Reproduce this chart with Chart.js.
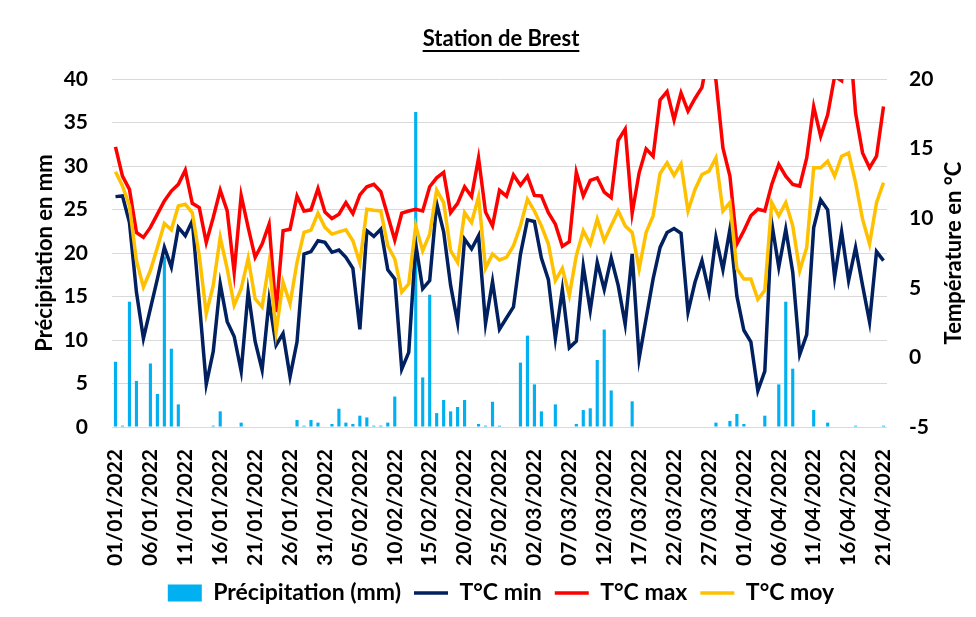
<!DOCTYPE html>
<html lang="fr">
<head>
<meta charset="UTF-8">
<title>Station de Brest</title>
<script src="https://cdn.jsdelivr.net/npm/chart.js@4.4.1/dist/chart.umd.min.js"></script>
<style>
  html, body { margin: 0; padding: 0; background: #fff; }
  #wrap { width: 976px; height: 617px; }
</style>
</head>
<body>
<div id="wrap"><canvas id="chart" width="976" height="617"></canvas></div>
<script>
// jours du 01/01/2022 au 21/04/2022
const monthLengths = [31, 28, 31, 21];
const dates = [];
monthLengths.forEach((n, m) => {
  for (let d = 1; d <= n; d++) {
    dates.push(String(d).padStart(2, '0') + '/' + String(m + 1).padStart(2, '0') + '/2022');
  }
});

const precipitation = [
  7.5, 0.15, 14.4, 5.3, 0, 7.3, 3.8, 19.6, 9.0, 2.6,
  0, 0, 0, 0, 0.15, 1.8, 0, 0, 0.5, 0,
  0, 0, 0, 0, 0, 0, 0.8, 0.15, 0.8, 0.5,
  0, 0.35, 2.1, 0.5, 0.35, 1.3, 1.1, 0.15, 0.15, 0.5,
  3.5, 0, 0, 36.2, 5.7, 15.2, 1.6, 3.1, 1.8, 2.3,
  3.1, 0, 0.35, 0.15, 2.9, 0.15, 0, 0, 7.4, 10.5,
  4.9, 1.8, 0, 2.6, 0, 0, 0.35, 1.95, 2.15, 7.7,
  11.2, 4.2, 0, 0, 2.95, 0, 0, 0, 0, 0,
  0, 0, 0, 0, 0, 0, 0.5, 0, 0.7, 1.5,
  0.35, 0, 0, 1.3, 0, 4.9, 14.4, 6.7, 0, 0,
  1.95, 0, 0.5, 0, 0, 0, 0.15, 0, 0, 0,
  0.15
];

const tMin = [
  11.55, 11.6, 9.69, 4.69, 1.36, 3.5, 5.64, 7.9, 6.48, 9.34,
  8.74, 9.81, 4.0, -1.93, 0.43, 5.29, 2.57, 1.5, -1.0, 4.71,
  1.14, -0.9, 4.1, 0.88, 1.71, -1.38, 1.12, 7.43, 7.6, 8.38,
  8.26, 7.55, 7.71, 7.19, 6.4, 2.02, 9.1, 8.69, 9.21, 6.29,
  5.64, -0.84, 0.36, 8.14, 4.93, 5.52, 11.07, 9.02, 5.17, 2.5,
  8.5, 7.79, 8.74, 2.43, 5.45, 2.02, 2.83, 3.62, 7.4, 9.88,
  9.76, 7.14, 5.59, 1.36, 4.88, 0.69, 1.17, 6.55, 3.38, 6.83,
  4.88, 7.14, 5.17, 2.38, 7.43, -0.07, 2.79, 5.64, 7.9, 8.98,
  9.26, 8.92, 3.26, 5.4, 6.95, 4.69, 8.62, 6.31, 9.21, 4.4,
  1.95, 1.12, -2.4, -0.98, 9.64, 6.48, 9.21, 6.12, 0.21, 1.64,
  9.33, 11.31, 10.6, 5.76, 9.02, 5.52, 7.9, 5.17, 2.55, 7.6,
  6.95
];

const tMax = [
  15.12, 13.02, 12.07, 8.98, 8.62, 9.34, 10.29, 11.24, 11.95, 12.43,
  13.45, 11.07, 10.76, 8.26, 10.05, 12.02, 10.52, 6.12, 11.64, 9.34,
  7.19, 8.14, 9.57, 3.26, 9.1, 9.21, 11.6, 10.52, 10.6, 12.12,
  10.45, 9.98, 10.29, 11.12, 10.33, 11.67, 12.26, 12.43, 11.9, 10.17,
  8.43, 10.36, 10.52, 10.64, 10.52, 12.26, 12.9, 13.29, 10.4, 11.07,
  12.26, 11.55, 14.33, 10.45, 9.45, 12.0, 11.58, 13.1, 12.36, 13.02,
  11.64, 11.6, 10.4, 9.57, 7.98, 8.31, 13.31, 11.6, 12.71, 12.9,
  11.88, 11.48, 15.6, 16.4, 10.36, 13.26, 14.98, 14.45, 18.5, 19.1,
  17.07, 19.0, 17.7, 18.6, 19.4, 22.1, 19.9, 15.05, 13.02, 8.14,
  9.1, 10.17, 10.64, 10.52, 12.43, 13.86, 13.02, 12.43, 12.31, 14.33,
  18.02, 15.88, 17.43, 20.2, 19.88, 23.9, 17.55, 14.69, 13.62, 14.45,
  18.02
];

const tMoy = [
  13.33, 12.31, 10.88, 6.95, 5.05, 6.24, 7.9, 9.62, 9.17, 10.88,
  11.0, 10.4, 7.31, 3.14, 5.17, 8.62, 6.36, 3.74, 4.93, 7.12,
  4.21, 3.62, 6.83, 1.83, 5.4, 3.86, 6.83, 8.98, 9.14, 10.36,
  9.34, 8.86, 9.02, 9.17, 8.38, 6.79, 10.64, 10.57, 10.52, 8.02,
  7.07, 4.69, 5.29, 9.45, 7.67, 8.86, 12.02, 11.12, 7.67, 6.83,
  10.4, 9.69, 11.55, 6.4, 7.43, 7.0, 7.19, 8.02, 9.45, 11.36,
  10.52, 9.45, 8.14, 5.52, 6.4, 4.45, 7.31, 9.1, 8.14, 9.93,
  8.38, 9.45, 10.52, 9.45, 8.98, 6.36, 8.98, 10.17, 13.21, 13.98,
  13.07, 13.9, 10.52, 12.07, 13.14, 13.38, 14.33, 10.52, 11.12, 6.36,
  5.64, 5.64, 4.17, 4.81, 11.12, 10.17, 11.12, 9.45, 6.24, 7.9,
  13.62, 13.62, 14.1, 13.02, 14.45, 14.69, 12.55, 9.93, 8.14, 11.12,
  12.55
];

const precipTicks = { min: 0, max: 40, step: 5 };
const tempTicks = { min: -5, max: 20, step: 5 };

const chartTitle = 'Station de Brest';
const leftTitle = 'Précipitation en mm';
const rightTitle = 'Température en °C';

const FONT = 'Lato';

// souligne le titre et écrit le titre de l'axe droit (lu de bas en haut)
const decorations = {
  id: 'decorations',
  afterDraw(chart) {
    const ctx = chart.ctx;
    const tb = chart.titleBlock;
    ctx.save();
    ctx.font = 'bold 22px ' + FONT;
    const w = ctx.measureText(chartTitle).width;
    const cx = (tb.left + tb.right) / 2;
    ctx.strokeStyle = '#000';
    ctx.lineWidth = 2;
    ctx.beginPath();
    ctx.moveTo(cx - w / 2, 51);
    ctx.lineTo(cx + w / 2, 51);
    ctx.stroke();

    const area = chart.chartArea;
    ctx.translate(954, (area.top + area.bottom) / 2);
    ctx.rotate(-Math.PI / 2);
    ctx.textAlign = 'center';
    ctx.textBaseline = 'middle';
    ctx.fillStyle = '#000';
    ctx.fillText(rightTitle, 0, 0);
    ctx.restore();
  }
};

function lineSet(label, data, color, order) {
  return {
    type: 'line',
    label: label,
    data: data,
    yAxisID: 'y1',
    borderColor: color,
    backgroundColor: color,
    borderWidth: 3.5,
    pointRadius: 0,
    pointBorderWidth: 3.5,
    pointStyle: 'line',
    tension: 0,
    clip: 0,
    order: order
  };
}

const ctx = document.getElementById('chart').getContext('2d');
new Chart(ctx, {
  data: {
    labels: dates,
    datasets: [
      {
        type: 'bar',
        label: 'Précipitation (mm)',
        data: precipitation,
        yAxisID: 'y',
        backgroundColor: '#00b0f0',
        borderWidth: 0,
        barPercentage: 0.45,
        categoryPercentage: 1,
        pointStyle: 'rect',
        order: 4
      },
      lineSet('T°C min', tMin, '#002060', 3),
      lineSet('T°C max', tMax, '#ff0000', 2),
      lineSet('T°C moy', tMoy, '#ffc000', 1)
    ]
  },
  options: {
    responsive: false,
    animation: false,
    layout: { padding: { left: 26, right: 0, top: 0, bottom: 2.5 } },
    plugins: {
      title: {
        display: true,
        text: chartTitle,
        color: '#000',
        font: { family: FONT, size: 22, weight: 'bold' },
        padding: { top: 26, bottom: 26.6 }
      },
      legend: {
        position: 'bottom',
        labels: {
          usePointStyle: true,
          pointStyleWidth: 34,
          boxHeight: 17,
          padding: 13,
          color: '#000',
          font: { family: FONT, size: 23, weight: 'bold' },
          sort: (a, b) => a.datasetIndex - b.datasetIndex
        }
      },
      tooltip: { enabled: false }
    },
    scales: {
      x: {
        offset: true,
        grid: { display: false },
        border: { display: false },
        ticks: {
          autoSkip: false,
          minRotation: 90,
          maxRotation: 90,
          padding: 14,
          color: '#000',
          font: { family: FONT, size: 21, weight: 'bold' },
          callback: function (val, index) {
            return index % 5 === 0 ? dates[index] : '';
          }
        },
        afterFit: (scale) => { scale.height = 141.5; }
      },
      y: {
        position: 'left',
        min: precipTicks.min,
        max: precipTicks.max,
        grid: { color: '#d9d9d9', lineWidth: 1, drawTicks: false },
        border: { display: false },
        ticks: {
          stepSize: precipTicks.step,
          padding: 24,
          color: '#000',
          font: { family: FONT, size: 21, weight: 'bold' }
        },
        title: {
          display: true,
          text: leftTitle,
          color: '#000',
          font: { family: FONT, size: 22, weight: 'bold' },
          padding: { top: 6, bottom: 0 }
        },
        afterFit: (scale) => { scale.width = 86; }
      },
      y1: {
        position: 'right',
        min: tempTicks.min,
        max: tempTicks.max,
        grid: { display: false, drawTicks: false },
        border: { display: false },
        ticks: {
          stepSize: tempTicks.step,
          padding: 22,
          color: '#000',
          font: { family: FONT, size: 21, weight: 'bold' }
        },
        afterFit: (scale) => { scale.width = 89; }
      }
    }
  },
  plugins: [decorations]
});
</script>
</body>
</html>
